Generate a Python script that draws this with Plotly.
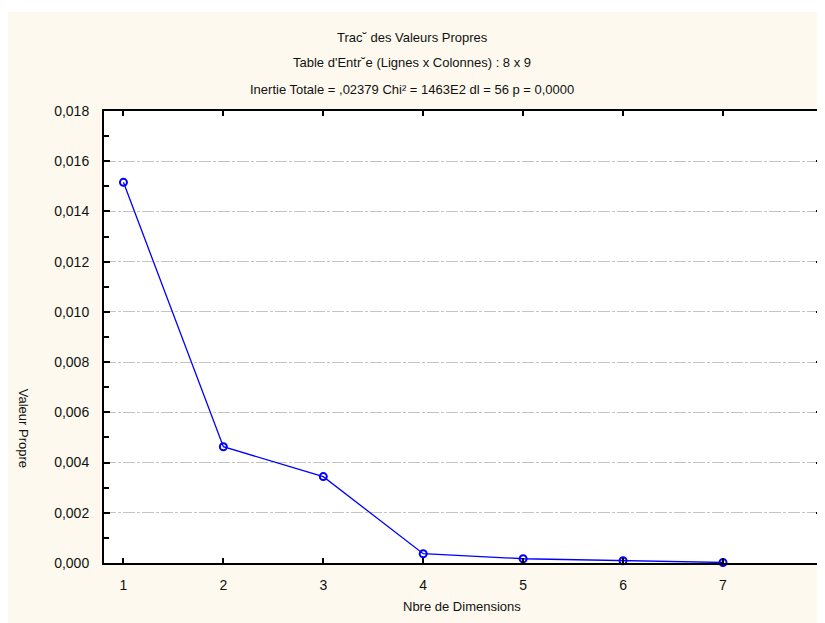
import plotly.graph_objects as go

dims = [1, 2, 3, 4, 5, 6, 7]
eigen = [0.01516, 0.00463, 0.00344, 0.00037, 0.00017, 0.00009, 0.00002]
y_ticks = [0.000, 0.002, 0.004, 0.006, 0.008, 0.010, 0.012, 0.014, 0.016, 0.018]
x_ticks = [1, 2, 3, 4, 5, 6, 7, 8]
title_lines = [
    "Trac˘ des Valeurs Propres",
    "Table d'Entr˘e (Lignes x Colonnes) : 8 x 9",
    "Inertie Totale = ,02379 Chi² = 1463E2 dl = 56 p = 0,0000",
]
x_title = "Nbre de Dimensions"
y_title = "Valeur Propre"

OFF = 8  # page body margin
W, H = 825 - OFF, 623 - OFF
L, T = 104 - OFF, 111 - OFF
R = W - (824 - OFF)
B = H - (563 - OFF)
pw, ph = W - L - R, H - T - B
x_lo = 1 - (123.5 - 104) / 100.2
x_hi = x_lo + pw / 100.2

def px(x):  # screen px -> paper
    return (x - OFF - L) / pw

def py(y):
    return (H - B - (y - OFF)) / ph

FONT = "Liberation Sans, Arial, sans-serif"
CREAM = "#FDF9EE"

fig = go.Figure()
fig.add_trace(go.Scatter(
    x=dims, y=eigen, mode="lines+markers",
    line=dict(color="#0000FF", width=1.3),
    marker=dict(symbol="circle-open", size=7, color="#0000FF", line=dict(width=2, color="#0000FF")),
    showlegend=False, cliponaxis=False,
))

annots = []
for txt, yy in zip(title_lines, [38, 62, 89]):
    annots.append(dict(text=txt, x=px(413), y=py(yy), xref="paper", yref="paper",
                       showarrow=False, xanchor="center", yanchor="middle",
                       font=dict(family=FONT, size=13, color="#111")))
annots.append(dict(text=x_title, x=px(463), y=py(606), xref="paper", yref="paper",
                   showarrow=False, xanchor="center", yanchor="middle",
                   font=dict(family=FONT, size=13, color="#111")))
annots.append(dict(text=y_title, x=px(24), y=py(428), xref="paper", yref="paper",
                   showarrow=False, xanchor="center", yanchor="middle", textangle=90,
                   font=dict(family=FONT, size=13, color="#111")))

shapes = [
    dict(type="rect", xref="paper", yref="paper", x0=px(0), x1=px(W + 40), y0=py(0), y1=py(12),
         fillcolor="white", line=dict(width=0), layer="above"),
]

fig.update_layout(
    width=W, height=H, autosize=False,
    margin=dict(l=L, r=R, t=T, b=B, pad=0),
    paper_bgcolor=CREAM, plot_bgcolor="white",
    separators=", ",
    font=dict(family=FONT, size=14, color="#111"),
    annotations=annots, shapes=shapes,
    xaxis=dict(range=[x_lo, x_hi], tickvals=x_ticks, ticktext=[str(v) for v in x_ticks],
               ticks="inside", ticklen=5, tickwidth=1.5, tickcolor="black",
               showline=True, linecolor="black", linewidth=2, mirror="ticks",
               showgrid=False, zeroline=False, ticklabelstandoff=8,
               tickfont=dict(family=FONT, size=14, color="#111")),
    yaxis=dict(range=[0, 0.018], tickvals=y_ticks, tickformat=".3f",
               ticks="inside", ticklen=6, tickwidth=1.5, tickcolor="black",
               minor=dict(dtick=0.001, ticks="inside", ticklen=5, tickwidth=1.5, tickcolor="black", showgrid=False),
               showline=True, linecolor="black", linewidth=2, mirror="ticks",
               showgrid=True, gridcolor="#c4c4c4", gridwidth=1, griddash="12px,2px,3px,2px",
               zeroline=False, ticklabelstandoff=10,
               tickfont=dict(family=FONT, size=14, color="#111")),
)

fig.write_html(
    "out.html",
    config={"responsive": False},
    post_script="document.documentElement.style.overflow='hidden';document.body.style.overflow='hidden';",
)
